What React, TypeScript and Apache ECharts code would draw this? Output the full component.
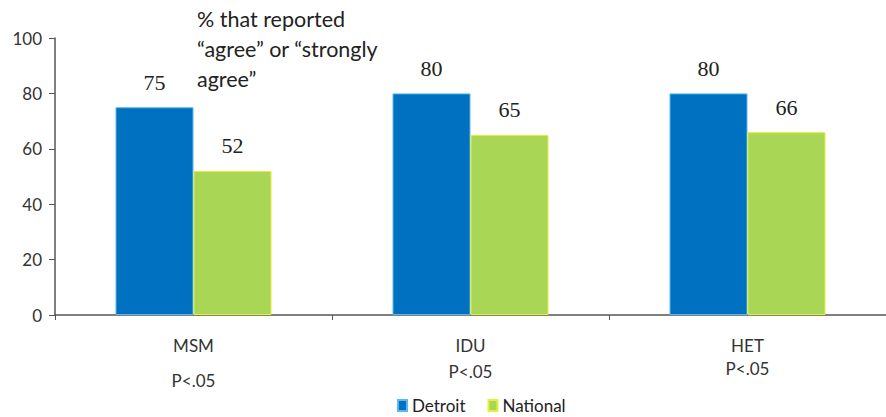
import React, { useEffect, useRef } from "react";
import * as echarts from "echarts";

const categories = ["MSM", "IDU", "HET"];
const pValues = ["P<.05", "P<.05", "P<.05"];
const detroit = [75, 80, 80];
const national = [52, 65, 66];
const yTicks = { min: 0, max: 100, interval: 20 };
const noteLines = ["% that reported", "\u201Cagree\u201D or \u201Cstrongly", "agree\u201D"];

// second-line spacing under each category name
const pStyleKeys = ["p0", "p1", "p2"];

export default function App() {
  const ref = useRef<HTMLDivElement>(null);

  useEffect(() => {
    document.body.style.margin = "0";
    const chart = echarts.init(ref.current!, null, { renderer: "svg" });
    const sans = "Lato";
    const serif = "Liberation Serif";

    chart.setOption({
      animation: false,
      backgroundColor: "#ffffff",
      grid: { left: 55, right: -2, top: 38, bottom: 102 },
      legend: {
        data: ["Detroit", "National"],
        left: 397,
        top: 397,
        padding: 0,
        itemWidth: 9,
        itemHeight: 11,
        itemGap: 22,
        icon: "rect",
        textStyle: { fontFamily: sans, fontSize: 17, color: "#222" },
      },
      xAxis: {
        type: "category",
        data: categories,
        axisLine: { lineStyle: { color: "#555", width: 1.5 } },
        axisTick: { show: true, length: 5, lineStyle: { color: "#555" } },
        axisLabel: {
          margin: 20,
          fontFamily: sans,
          fontSize: 17,
          color: "#333",
          formatter: (v: string, i: number) => `{n|${v}}\n{${pStyleKeys[i]}|${pValues[i]}}`,
          rich: {
            n: { fontFamily: sans, fontSize: 17, color: "#333", lineHeight: 20 },
            p0: { fontFamily: sans, fontSize: 17, color: "#333", lineHeight: 50 },
            p1: { fontFamily: sans, fontSize: 17, color: "#333", lineHeight: 32 },
            p2: { fontFamily: sans, fontSize: 17, color: "#333", lineHeight: 26 },
          },
        },
      },
      yAxis: {
        type: "value",
        min: yTicks.min,
        max: yTicks.max,
        interval: yTicks.interval,
        splitLine: { show: false },
        axisLine: { show: true, lineStyle: { color: "#555", width: 1.5 } },
        axisTick: { show: true, length: 6, lineStyle: { color: "#555" } },
        axisLabel: { margin: 13, fontFamily: sans, fontSize: 17, color: "#333" },
      },
      series: [
        {
          name: "Detroit",
          type: "bar",
          data: detroit,
          barWidth: 78,
          barGap: "0%",
          itemStyle: { color: "#0070C0", borderColor: "#5BB8EC", borderWidth: 1 },
          label: {
            show: true,
            position: "top",
            distance: 14,
            fontFamily: serif,
            fontSize: 22,
            color: "#222",
          },
        },
        {
          name: "National",
          type: "bar",
          data: national,
          barWidth: 78,
          barGap: "0%",
          itemStyle: { color: "#A9D655", borderColor: "#E4F03A", borderWidth: 1 },
          label: {
            show: true,
            position: "top",
            distance: 14,
            fontFamily: serif,
            fontSize: 22,
            color: "#222",
          },
        },
      ],
      graphic: noteLines.map((t, i) => ({
        type: "text",
        left: 197,
        top: 8 + i * 30,
        style: { text: t, fontFamily: sans, fontSize: 21.5, fill: "#222" },
      })),
    });

    return () => chart.dispose();
  }, []);

  return <div ref={ref} style={{ width: 886, height: 417 }} />;
}
